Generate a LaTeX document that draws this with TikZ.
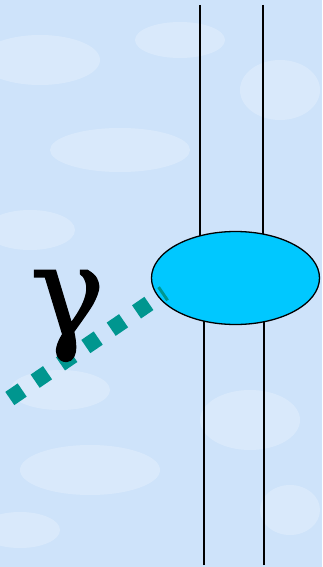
\documentclass[tikz,border=0pt]{standalone}
\usepackage{fontspec}
\newfontfamily\gammafont[FakeBold=1.2]{DejaVu Serif}
\usetikzlibrary{shapes.geometric,positioning,calc,backgrounds}
\definecolor{skyblue}{RGB}{206,227,250}
\definecolor{cloudwhite}{RGB}{232,242,253}
\definecolor{blobcyan}{RGB}{0,200,255}
\definecolor{photonteal}{RGB}{0,150,143}
\colorlet{figink}{black}

\begin{document}
\begin{tikzpicture}[
  x=1pt, y=-1pt,
  quark/.style={figink, line width=1.6pt},
  blob/.style={ellipse, draw=figink, fill=blobcyan, line width=1.3pt,
    minimum width=168pt, minimum height=93pt, inner sep=0pt},
  photon/.style={photonteal, line width=16pt, dash pattern=on 15pt off 15.7pt},
]
  \useasboundingbox (0,0) rectangle (322,567);
  \node[blob] (tgt) at (235.5,278) {};

  \coordinate (qa) at (200,5);
  \coordinate (qb) at (263,5);
  \coordinate (qc) at (204,565);
  \coordinate (qd) at (264,565);

  \begin{pgfonlayer}{background}
    \fill[skyblue] (0,0) rectangle (322,567);
    % soft clouds
    \foreach \cx/\cy/\rx/\ry in {
      40/60/60/25,
      120/150/70/22,
      30/230/45/20,
      280/90/40/30,
      180/40/45/18,
      60/390/50/20,
      90/470/70/25,
      250/420/50/30,
      20/530/40/18,
      290/510/30/25%
    } {
      \fill[cloudwhite, opacity=0.45] (\cx,\cy) ellipse ({\rx} and {\ry});
    }
    \draw[quark] (qa) -- (qa |- tgt.center);
    \draw[quark] (qb) -- (qb |- tgt.center);
    \draw[quark] (qc) -- (qc |- tgt.center);
    \draw[quark] (qd) -- (qd |- tgt.center);
  \end{pgfonlayer}

  \coordinate (src) at (9.8,398.5);
  \coordinate (hit) at (164.3,292.9);
  \draw[photon] (src) -- (hit);

  \node[font={\gammafont\fontsize{125}{125}\selectfont}, inner sep=0pt]
    (gam) at (67.5,316) {γ};
\end{tikzpicture}
\end{document}
